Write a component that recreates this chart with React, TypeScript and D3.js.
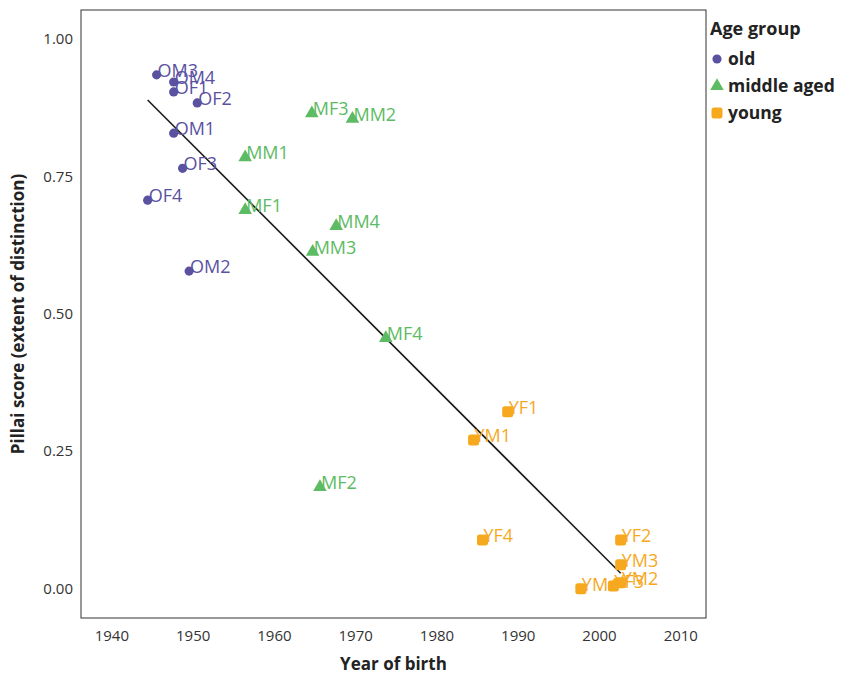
import React, { useEffect, useRef } from "react";
import * as d3 from "d3";

// speakers, by age group
const oldLabels = ["OM3", "OM4", "OF1", "OF2", "OM1", "OF3", "OF4", "OM2"];
const oldYears = [1945.5, 1947.6, 1947.6, 1950.5, 1947.6, 1948.7, 1944.4, 1949.5];
const oldPillai = [0.935, 0.922, 0.904, 0.884, 0.829, 0.765, 0.707, 0.578];

const midLabels = ["MF3", "MM2", "MM1", "MF1", "MM4", "MM3", "MF4", "MF2"];
const midYears = [1964.6, 1969.6, 1956.4, 1956.4, 1967.6, 1964.7, 1973.7, 1965.6];
const midPillai = [0.865, 0.855, 0.785, 0.689, 0.66, 0.613, 0.456, 0.185];

const youngLabels = ["YF1", "YM1", "YF4", "YF2", "YM3", "YM4", "YF3", "YM2"];
const youngYears = [1988.7, 1984.5, 1985.6, 2002.6, 2002.6, 1997.7, 2001.7, 2002.6];
const youngPillai = [0.322, 0.271, 0.089, 0.089, 0.044, 0.0, 0.005, 0.011];

const groups = ["old", "middle aged", "young"];
const xTicks = [1940, 1950, 1960, 1970, 1980, 1990, 2000, 2010];
const yTicks = [0, 0.25, 0.5, 0.75, 1];

const colors: Record<string, string> = { old: "#5a519f", "middle aged": "#5dbb63", young: "#f6a91f" };

export default function App() {
  const ref = useRef<SVGSVGElement>(null);

  useEffect(() => {
    const svg = d3.select(ref.current);
    svg.selectAll("*").remove();

    const left = 81, right = 706, top = 10, bottom = 618;
    const x = d3.scaleLinear().domain([1936.2, 2013.1]).range([left, right]);
    const y = d3.scaleLinear().domain([-0.053, 1.053]).range([bottom, top]);

    const data = [
      ...oldLabels.map((l, i) => ({ label: l, year: oldYears[i], pillai: oldPillai[i], group: "old" })),
      ...midLabels.map((l, i) => ({ label: l, year: midYears[i], pillai: midPillai[i], group: "middle aged" })),
      ...youngLabels.map((l, i) => ({ label: l, year: youngYears[i], pillai: youngPillai[i], group: "young" })),
    ];

    const font = "'Open Sans', sans-serif";

    svg.append("rect")
      .attr("x", left).attr("y", top)
      .attr("width", right - left).attr("height", bottom - top)
      .attr("fill", "white").attr("stroke", "#333").attr("stroke-width", 1);

    // tick labels
    svg.append("g").selectAll("text").data(xTicks).join("text")
      .attr("x", d => x(d)).attr("y", 641)
      .attr("text-anchor", "middle")
      .attr("font-family", font).attr("font-size", 15).attr("fill", "#333")
      .text(d => d);

    svg.append("g").selectAll("text").data(yTicks).join("text")
      .attr("x", 73).attr("y", d => y(d) + 5)
      .attr("text-anchor", "end")
      .attr("font-family", font).attr("font-size", 15).attr("fill", "#333")
      .text(d => d3.format(".2f")(d));

    // axis titles
    svg.append("text")
      .attr("x", (left + right) / 2).attr("y", 670)
      .attr("text-anchor", "middle")
      .attr("font-family", font).attr("font-size", 17).attr("font-weight", "bold").attr("fill", "#222")
      .text("Year of birth");

    svg.append("text")
      .attr("transform", `translate(24,${(top + bottom) / 2}) rotate(-90)`)
      .attr("text-anchor", "middle")
      .attr("font-family", font).attr("font-size", 17).attr("font-weight", "bold").attr("fill", "#222")
      .text("Pillai score (extent of distinction)");

    // regression line (least squares over all speakers)
    const mx = d3.mean(data, d => d.year)!;
    const my = d3.mean(data, d => d.pillai)!;
    const slope = d3.sum(data, d => (d.year - mx) * (d.pillai - my)) / d3.sum(data, d => (d.year - mx) ** 2);
    const [x0, x1] = d3.extent(data, d => d.year) as [number, number];
    svg.append("line")
      .attr("x1", x(x0)).attr("y1", y(my + slope * (x0 - mx)))
      .attr("x2", x(x1)).attr("y2", y(my + slope * (x1 - mx)))
      .attr("stroke", "#1a1a1a").attr("stroke-width", 1.6);

    const symbol = (g: string) =>
      g === "old" ? d3.symbol(d3.symbolCircle, 66)() :
      g === "middle aged" ? d3.symbol(d3.symbolTriangle, 80)() :
      null;

    const drawMark = (sel: d3.Selection<SVGGElement, any, any, any>, g: string) => {
      if (g === "young") {
        sel.append("rect").attr("x", -5.5).attr("y", -5.5).attr("width", 11).attr("height", 11)
          .attr("rx", 2.5).attr("fill", colors[g]);
      } else {
        sel.append("path").attr("d", symbol(g)).attr("fill", colors[g]);
      }
    };

    const pts = svg.append("g").selectAll("g").data(data).join("g")
      .attr("transform", d => `translate(${x(d.year)},${y(d.pillai)})`);
    pts.each(function (d) { drawMark(d3.select(this as SVGGElement), d.group); });

    svg.append("g").selectAll("text").data(data).join("text")
      .attr("x", d => x(d.year) + 1).attr("y", d => y(d.pillai) + 2)
      .attr("font-family", font).attr("font-size", 18).attr("fill", d => colors[d.group])
      .text(d => d.label);

    // legend
    svg.append("text")
      .attr("x", 710).attr("y", 35)
      .attr("font-family", font).attr("font-size", 18).attr("font-weight", "bold").attr("fill", "#222")
      .text("Age group");

    const items = svg.append("g").selectAll("g").data(groups).join("g")
      .attr("transform", (d, i) => `translate(717,${59 + i * 27})`);
    items.each(function (d) { drawMark(d3.select(this as SVGGElement), d); });
    items.append("text")
      .attr("x", 11).attr("y", 6)
      .attr("font-family", font).attr("font-size", 17.5).attr("font-weight", "bold").attr("fill", "#222")
      .text(d => d);
  }, []);

  return (
    <svg ref={ref} width={846} height={676}
      style={{ position: "absolute", left: 0, top: 0, background: "white" }} />
  );
}
